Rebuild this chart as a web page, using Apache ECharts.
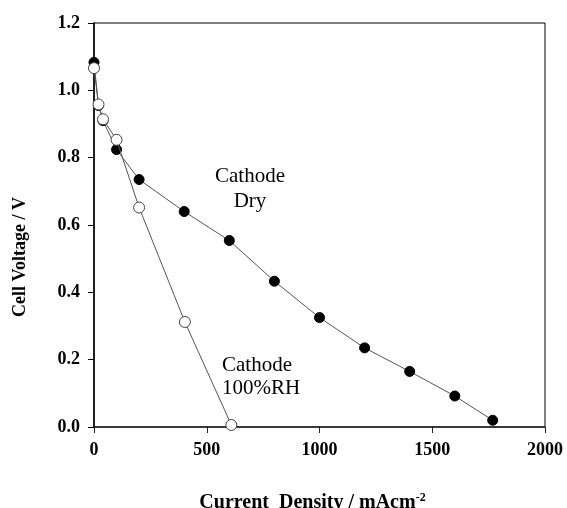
<!DOCTYPE html>
<html>
<head>
<meta charset="utf-8">
<script src="https://cdn.jsdelivr.net/npm/echarts@6/dist/echarts.min.js"></script>
<style>html,body{margin:0;padding:0;background:#fff;}#c{width:567px;height:508px;}</style>
</head>
<body>
<div id="c"></div>
<script>
const dryCurrent = [0, 20, 40, 100, 200, 400, 600, 800, 1000, 1200, 1400, 1600, 1768];
const dryVoltage = [1.083, 0.955, 0.91, 0.824, 0.735, 0.64, 0.554, 0.433, 0.325, 0.235, 0.165, 0.092, 0.02];
const rhCurrent = [0, 20, 40, 100, 200, 403, 609];
const rhVoltage = [1.066, 0.958, 0.914, 0.853, 0.652, 0.312, 0.006];
const xTicks = [0, 500, 1000, 1500, 2000];
const yTicks = [0.0, 0.2, 0.4, 0.6, 0.8, 1.0, 1.2];

const font = '"Liberation Serif","Times New Roman",serif';
const chart = echarts.init(document.getElementById('c'));
chart.setOption({
  backgroundColor: '#fff',
  animation: false,
  grid: {left: 94, right: 22, top: 23, bottom: 81, show: true, borderColor: '#000', borderWidth: 1,
    containLabel: false, outerBoundsMode: 'none'},
  xAxis: {
    type: 'value', min: xTicks[0], max: xTicks[xTicks.length-1], interval: 500,
    axisLine: {show: true, lineStyle: {color: '#222', width: 1.5}},
    axisTick: {show: true, inside: false, length: 6, lineStyle: {color: '#222'}},
    splitLine: {show: false},
    axisLabel: {margin: 14, fontFamily: font, fontWeight: 'bold', fontSize: 18, color: '#000',
      formatter: v => String(v)},
    name: 'Current  Density / mAcm{sup|-2}',
    nameLocation: 'middle', nameGap: 65,
    nameTextStyle: {fontFamily: font, fontWeight: 'bold', fontSize: 20, color: '#000', padding: [0,14,0,0],
      rich: {sup: {fontFamily: font, fontWeight: 'bold', fontSize: 12, verticalAlign: 'top', padding: [0,0,10,0], color: '#000'}}}
  },
  yAxis: {
    type: 'value', min: yTicks[0], max: yTicks[yTicks.length-1], interval: 0.2,
    axisLine: {show: true, lineStyle: {color: '#000', width: 1.5}},
    axisTick: {show: true, inside: false, length: 6, lineStyle: {color: '#000'}},
    splitLine: {show: false},
    axisLabel: {margin: 14, fontFamily: font, fontWeight: 'bold', fontSize: 18, color: '#000',
      formatter: v => v.toFixed(1)}
  },
  graphic: [
    {type: 'text', x: 20, y: 257, rotation: Math.PI/2,
      style: {text: 'Cell Voltage / V', font: 'bold 18px ' + font, fill: '#000', align: 'center', verticalAlign: 'middle'}},
    {type: 'text', x: 250, y: 189,
      style: {text: 'Cathode\nDry', font: '21px ' + font, fill: '#000', align: 'center', verticalAlign: 'middle', lineHeight: 25}},
    {type: 'text', x: 222, y: 377,
      style: {text: 'Cathode\n100%RH', font: '21px ' + font, fill: '#000', align: 'left', verticalAlign: 'middle', lineHeight: 23}}
  ],
  series: [
    {
      type: 'line', name: 'Cathode Dry',
      data: dryCurrent.map((x, i) => [x, dryVoltage[i]]),
      symbol: 'circle', symbolSize: 10,
      lineStyle: {color: '#555', width: 1},
      itemStyle: {color: '#000', borderColor: '#000', borderWidth: 1},
      z: 2
    },
    {
      type: 'line', name: 'Cathode 100%RH',
      data: rhCurrent.map((x, i) => [x, rhVoltage[i]]),
      symbol: 'circle', symbolSize: 11,
      lineStyle: {color: '#555', width: 1},
      itemStyle: {color: '#fff', borderColor: '#444', borderWidth: 1},
      z: 3
    }
  ]
});
</script>
</body>
</html>
